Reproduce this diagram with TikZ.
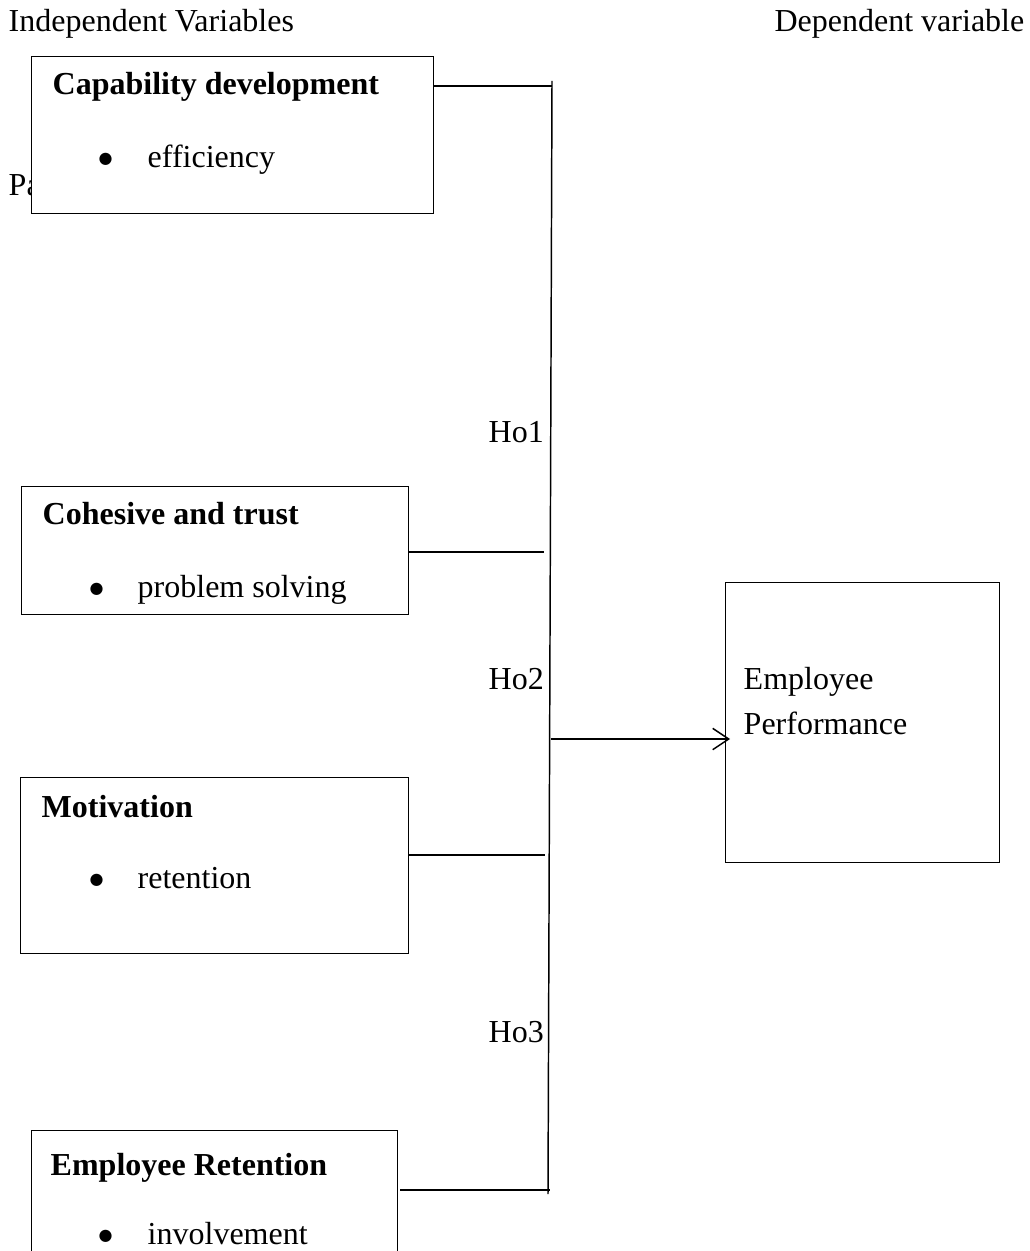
\documentclass[tikz,border=0pt]{standalone}
\usepackage{fontspec}
\setmainfont{Liberation Serif}
\newfontfamily\dotfont{DejaVu Sans}
\usetikzlibrary{arrows.meta}

\tikzset{every picture/.style={line width=1.1pt}}
\tikzset{
  varbox/.style={draw, fill=white, inner sep=0pt, anchor=north west},
  txt/.style={anchor=base west, inner sep=0pt, font=\fontsize{24}{29}\selectfont},
  boldtxt/.style={txt, font=\fontsize{24}{29}\selectfont\bfseries},
  dot/.style={txt, font=\dotfont\fontsize{12}{14}\selectfont},
}

\begin{document}
\begin{tikzpicture}[x=0.75pt,y=0.75pt,yscale=-1,xscale=1]
		\useasboundingbox (0,0) rectangle (1029,1251);
		\clip (0,0) rectangle (1029,1251);

		% Text Node
		\node [txt] (indep) at (8,32) {Independent Variables};
		% Text Node
		\node [txt, anchor=base east] (dep) at (1025,32) {Dependent variable};
		% Text Node
		\node [txt] (pa) at (8,196) {Pa};

		%Shape: Rectangle
		\node [varbox, minimum width=301.5pt, minimum height=117.75pt] (capbox) at (31,56) {};
		%Shape: Rectangle
		\node [varbox, minimum width=290.25pt, minimum height=96pt] (cohbox) at (21,486) {};
		%Shape: Rectangle
		\node [varbox, minimum width=291pt, minimum height=132pt] (motbox) at (20,777) {};
		%Shape: Rectangle
		\node [varbox, minimum width=274.5pt, minimum height=120pt] (retbox) at (31,1130) {};
		%Shape: Rectangle
		\node [varbox, line width=0.8pt, minimum width=205.5pt, minimum height=210pt] (perfbox) at (725,582) {};

		% Text Node
		\node [boldtxt] (captitle) at (52,95) {Capability development};
		\node [dot] (capdot) at (98,164) {●};
		\node [txt] (capitem) at (147,168) {efficiency};
		% Text Node
		\node [boldtxt] (cohtitle) at (42,524) {Cohesive and trust};
		\node [dot] (cohdot) at (89,593) {●};
		\node [txt] (cohitem) at (137,597) {problem solving};
		% Text Node
		\node [boldtxt] (mottitle) at (41,817) {Motivation};
		\node [dot] (motdot) at (89,884) {●};
		\node [txt] (motitem) at (137,888) {retention};
		% Text Node
		\node [boldtxt] (rettitle) at (50,1175) {Employee Retention};
		\node [dot] (retdot) at (98,1240) {●};
		\node [txt] (retitem) at (147,1244) {involvement};
		% Text Node
		\node [txt] (perfa) at (743,689) {Employee};
		\node [txt] (perfb) at (743,734) {Performance};

		% Text Node
		\node [txt] (ho1) at (488,442) {Ho1};
		\node [txt] (ho2) at (488,689) {Ho2};
		\node [txt] (ho3) at (488,1042) {Ho3};

		%Straight Lines
		\coordinate (bustop) at (552,81);
		\coordinate (busbot) at (548,1194);
		\coordinate (j1) at (552,86);
		\coordinate (j2) at (544,552);
		\coordinate (j3) at (545,855);
		\coordinate (j4) at (550,1190);
		\coordinate (a0) at (551,739);
		\draw (bustop) -- (busbot);
		\draw (capbox.east |- j1) -- (j1);
		\draw (cohbox.east |- j2) -- (j2);
		\draw (motbox.east |- j3) -- (j3);
		\draw ([xshift=1.5pt]retbox.east |- j4) -- (j4);
		\draw [-{Straight Barb[length=12pt,width=16pt]}, shorten >=-3.75pt] (a0) -- (perfbox.west |- a0);

	\end{tikzpicture}
\end{document}
